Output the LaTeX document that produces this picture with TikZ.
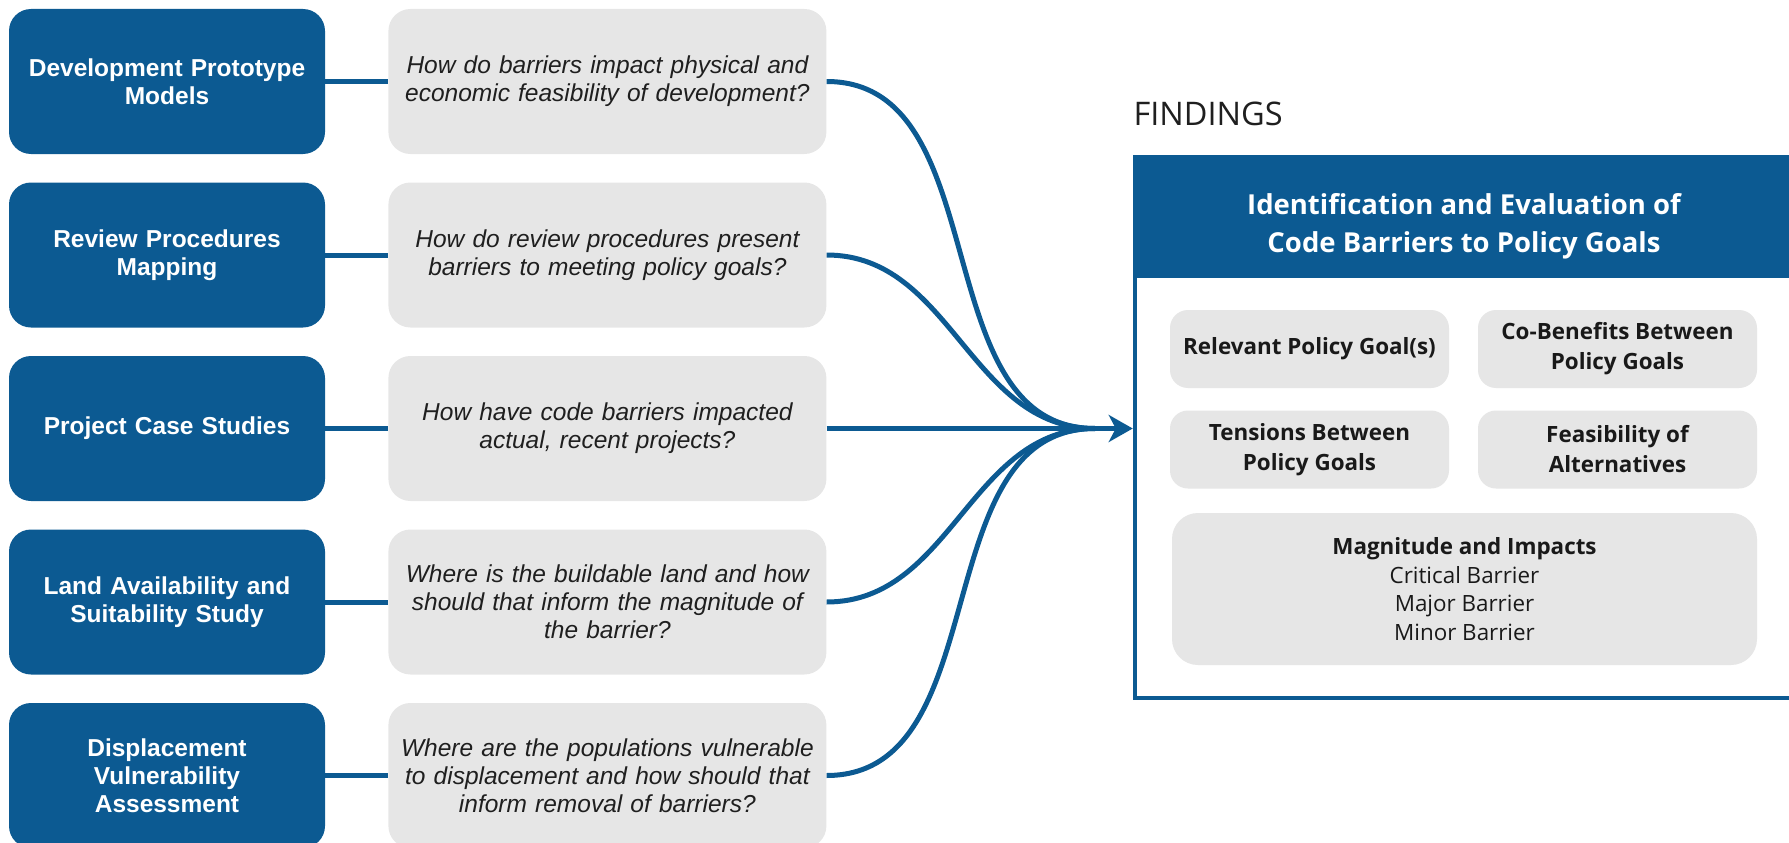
\documentclass[tikz,border=0pt]{standalone}
\usepackage{fontspec}
\setmainfont{Liberation Sans}
\newfontfamily\opensans{Open Sans}
\usetikzlibrary{arrows.meta,positioning}
\definecolor{cblue}{RGB}{12,90,146}
\definecolor{cgrey}{RGB}{230,230,230}
\tikzset{
  method/.style={fill=cblue, rounded corners=22pt, minimum width=316pt, minimum height=145pt,
    text width=300pt, align=center, inner sep=0pt, text=white,
    font=\fontsize{24.5}{28}\selectfont\bfseries},
  question/.style={fill=cgrey, rounded corners=22pt, minimum width=438pt, minimum height=145pt,
    text width=420pt, align=center, inner sep=0pt, text=black!88,
    font=\fontsize{24.5}{28}\selectfont\itshape},
  finding/.style={fill=cgrey, rounded corners=18pt, minimum width=279pt, minimum height=78pt,
    align=center, inner sep=0pt, text=black!90,
    font=\opensans\fontsize{22.4}{30}\selectfont\bfseries},
  link/.style={draw=cblue, line width=5pt}
}
\begin{document}
\begin{tikzpicture}[x=1pt,y=-1pt]
  \def\h{173.5}
  \useasboundingbox (0,0) rectangle (1789,843);
  \node[method] (m1) at (167,81.5) {Development Prototype\\Models};
  \node[method] (m2) at (167,81.5+\h) {Review Procedures\\Mapping};
  \node[method] (m3) at (167,81.5+2*\h) {Project Case Studies};
  \node[method] (m4) at (167,81.5+3*\h) {Land Availability and\\Suitability Study};
  \node[method] (m5) at (167,81.5+4*\h) {Displacement\\Vulnerability\\Assessment};
  \node[question,right=63pt of m1] (q1) {How do barriers impact physical and\\economic feasibility of development?};
  \node[question,right=63pt of m2] (q2) {How do review procedures present\\barriers to meeting policy goals?};
  \node[question,right=63pt of m3] (q3) {How have code barriers impacted\\actual, recent projects?};
  \node[question,right=63pt of m4] (q4) {Where is the buildable land and how\\should that inform the magnitude of\\the barrier?};
  \node[question,right=63pt of m5] (q5) {Where are the populations vulnerable\\to displacement and how should that\\inform removal of barriers?};
  \draw[link] (m1) -- (q1);
  \draw[link] (m2) -- (q2);
  \draw[link] (m3) -- (q3);
  \draw[link] (m4) -- (q4);
  \draw[link] (m5) -- (q5);
  \node[anchor=west, font=\opensans\fontsize{32.5}{34}\selectfont, text=black!88] (title) at (1130,114) {FINDINGS};
  \node[draw=cblue, line width=4.5pt, fill=white, minimum width=658pt, minimum height=541pt, inner sep=0pt] (box) at (1464,427.5) {};
  \node[fill=cblue, anchor=north, minimum width=658pt, minimum height=123pt, inner sep=0pt] (head) at (box.north) {};
  \node[align=center, text=white, font=\opensans\fontsize{27.5}{38}\selectfont\bfseries]
    (headtext) at ([yshift=-10pt]head.center) {Identification and Evaluation of\\Code Barriers to Policy Goals};
  \node[finding] (goal) at (1309.5,349) {Relevant Policy Goal(s)};
  \node[finding] (cobenefit) at (1617.5,349) {Co-Benefits Between\\Policy Goals};
  \node[finding] (tension) at (1309.5,449.5) {Tensions Between\\Policy Goals};
  \node[finding] (feasible) at (1617.5,449.5) {Feasibility of\\Alternatives};
  \node[finding, minimum width=585pt, minimum height=152pt, rounded corners=26pt,
    font=\opensans\fontsize{22.4}{28.5}\selectfont] (magnitude) at (1464.5,589)
    {\textbf{Magnitude and Impacts}\\Critical Barrier\\Major Barrier\\Minor Barrier};
  \coordinate (hub) at (1095,81.5+2*\h);
  \draw[link] (q1.east) to[out=0,in=180] (hub);
  \draw[link] (q2.east) to[out=0,in=180] (hub);
  \draw[link] (q4.east) to[out=0,in=180] (hub);
  \draw[link] (q5.east) to[out=0,in=180] (hub);
  \draw[link,-{Stealth[length=24pt,width=27pt,inset=7pt]}] (q3) -- (q3 -| box.west);
\end{tikzpicture}
\end{document}
